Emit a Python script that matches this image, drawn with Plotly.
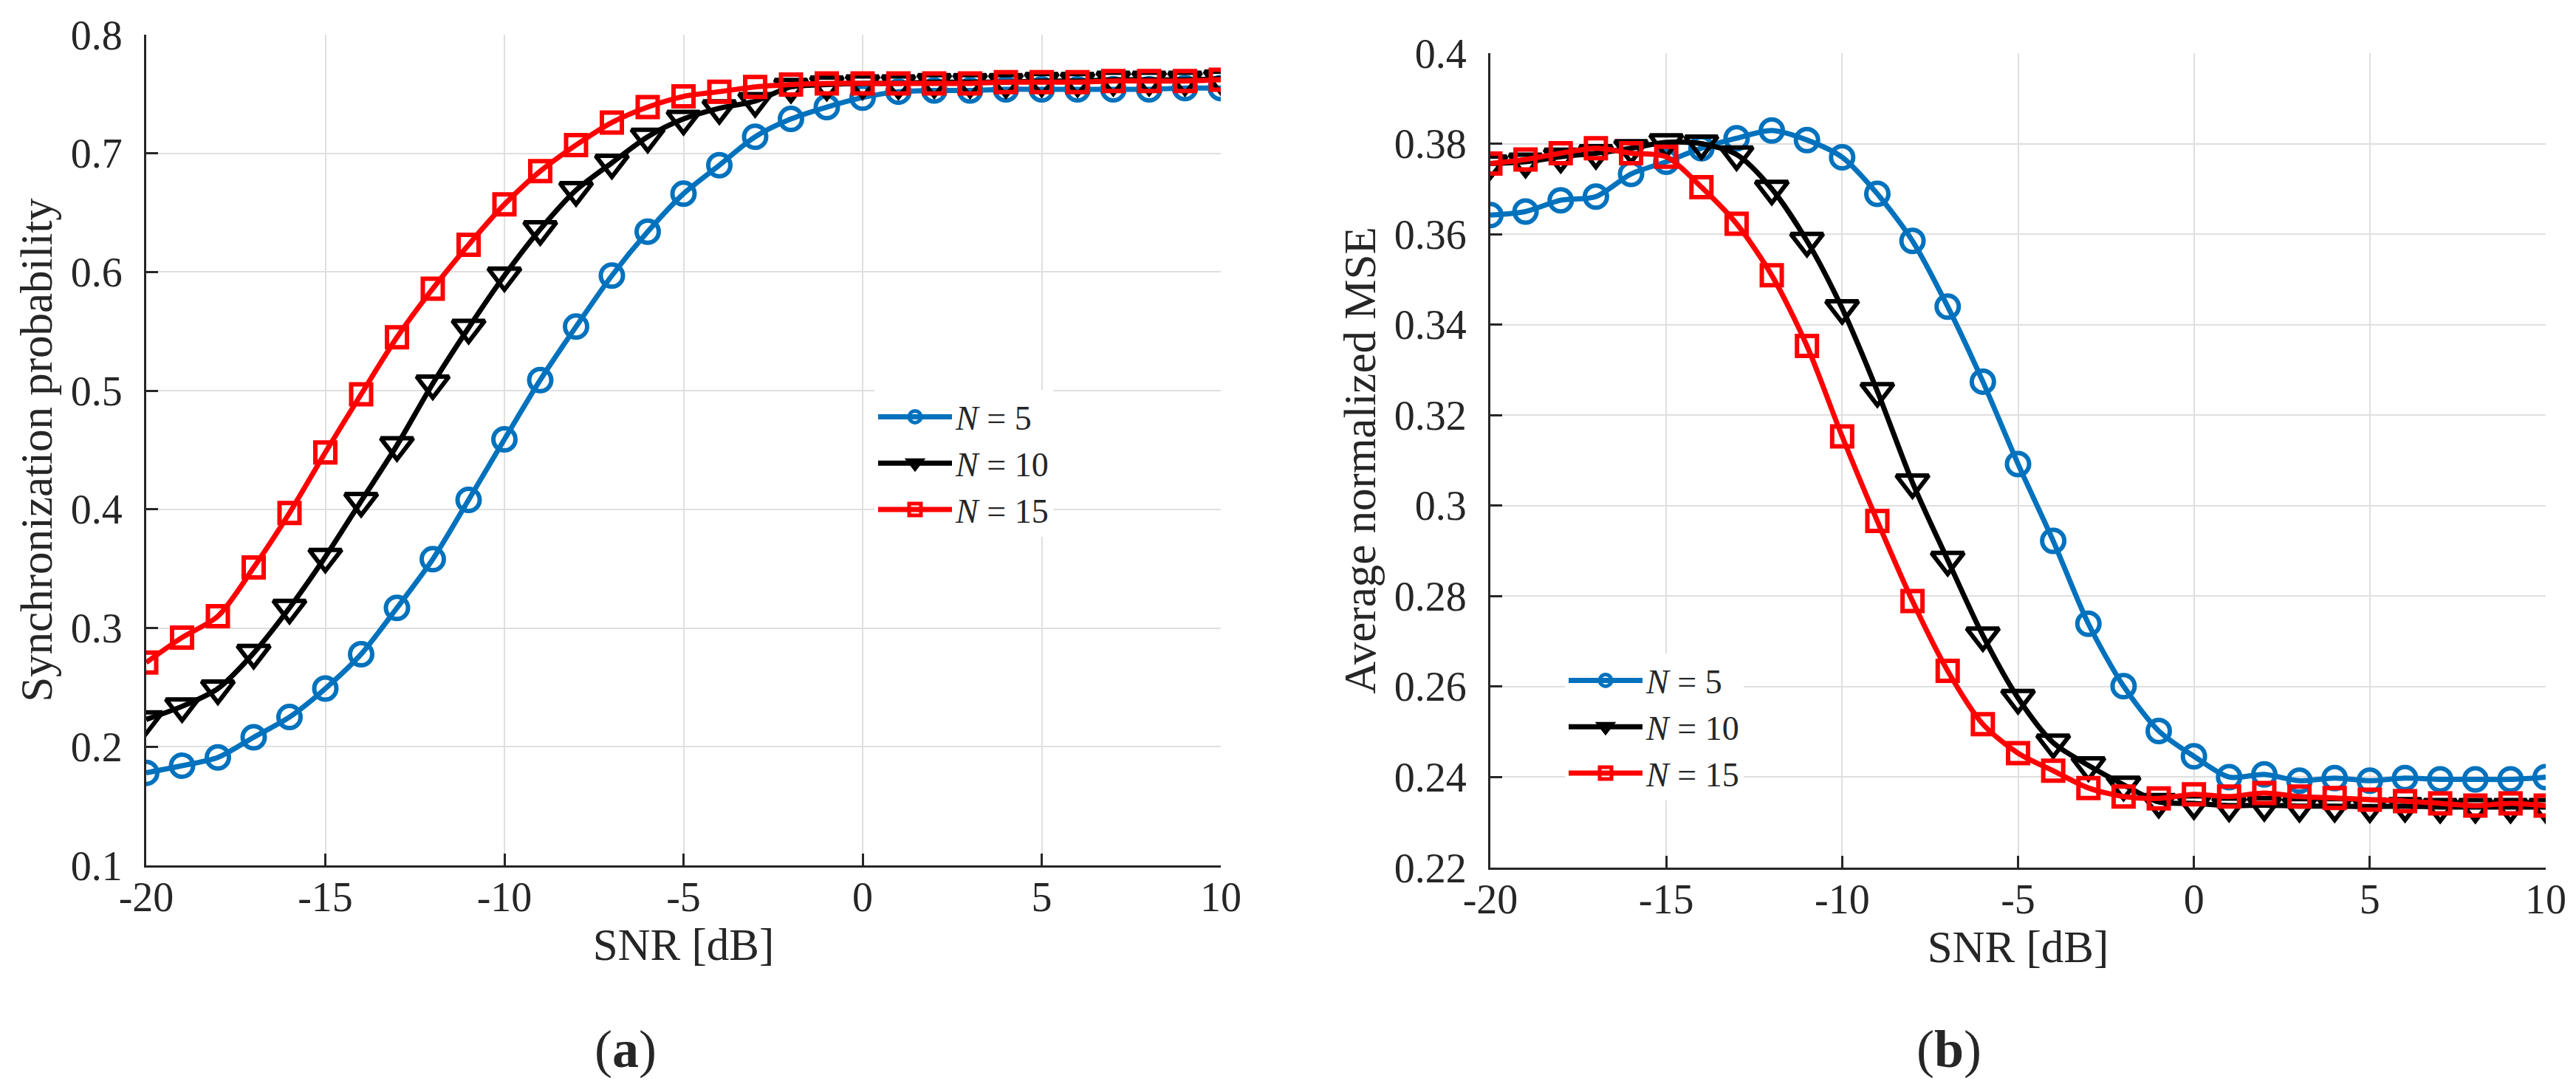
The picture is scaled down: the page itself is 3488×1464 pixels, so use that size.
import plotly.graph_objects as go
from plotly.subplots import make_subplots

# SNR sweep, one point per dB
snr = list(range(-20, 11))

# (a) synchronization probability
sync_n5 = [0.178, 0.184, 0.191, 0.208, 0.225, 0.249, 0.278, 0.317, 0.358, 0.408, 0.459,
           0.509, 0.554, 0.597, 0.634, 0.666, 0.690, 0.714, 0.729, 0.739, 0.747,
           0.752, 0.753, 0.753, 0.754, 0.754, 0.754, 0.754, 0.754, 0.755, 0.755]
sync_n10 = [0.223, 0.234, 0.249, 0.279, 0.317, 0.360, 0.407, 0.454, 0.506, 0.553, 0.597,
            0.636, 0.669, 0.692, 0.714, 0.729, 0.738, 0.744, 0.756, 0.758, 0.759,
            0.759, 0.760, 0.760, 0.760, 0.761, 0.761, 0.762, 0.762, 0.762, 0.763]
sync_n15 = [0.271, 0.292, 0.310, 0.351, 0.397, 0.448, 0.497, 0.545, 0.586, 0.623, 0.657,
            0.685, 0.707, 0.726, 0.739, 0.748, 0.752, 0.756, 0.758, 0.759, 0.759,
            0.759, 0.759, 0.759, 0.760, 0.760, 0.760, 0.761, 0.761, 0.761, 0.762]

# (b) average normalized MSE
mse_n5 = [0.3642, 0.3650, 0.3675, 0.3683, 0.3733, 0.3760, 0.3790, 0.3812, 0.3829, 0.3808, 0.3770,
          0.3689, 0.3585, 0.3440, 0.3274, 0.3092, 0.2922, 0.2739, 0.2601, 0.2502, 0.2446,
          0.2400, 0.2406, 0.2392, 0.2398, 0.2392, 0.2398, 0.2395, 0.2395, 0.2395, 0.2400]
mse_n10 = [0.3756, 0.3760, 0.3771, 0.3779, 0.3790, 0.3803, 0.3800, 0.3776, 0.3700, 0.3585, 0.3436,
           0.3253, 0.3051, 0.2880, 0.2713, 0.2575, 0.2476, 0.2426, 0.2383, 0.2345, 0.2342,
           0.2337, 0.2338, 0.2336, 0.2336, 0.2335, 0.2336, 0.2334, 0.2334, 0.2334, 0.2334]
mse_n15 = [0.3756, 0.3765, 0.3779, 0.3790, 0.3779, 0.3771, 0.3704, 0.3623, 0.3509, 0.3353, 0.3153,
           0.2966, 0.2789, 0.2635, 0.2517, 0.2453, 0.2414, 0.2376, 0.2357, 0.2353, 0.2362,
           0.2357, 0.2365, 0.2357, 0.2354, 0.2350, 0.2347, 0.2342, 0.2337, 0.2342, 0.2337]

x_ticks = [-20, -15, -10, -5, 0, 5, 10]
x_ticktext = ["-20", "-15", "-10", "-5", "0", "5", "10"]
y1_ticks = [0.1, 0.2, 0.3, 0.4, 0.5, 0.6, 0.7, 0.8]
y1_ticktext = ["0.1", "0.2", "0.3", "0.4", "0.5", "0.6", "0.7", "0.8"]
y2_ticks = [0.22, 0.24, 0.26, 0.28, 0.30, 0.32, 0.34, 0.36, 0.38, 0.40]
y2_ticktext = ["0.22", "0.24", "0.26", "0.28", "0.3", "0.32", "0.34", "0.36", "0.38", "0.4"]

labels = ["<i>N</i> = 5", "<i>N</i> = 10", "<i>N</i> = 15"]
colors = ["#0072BD", "#000000", "#FF0000"]
symbols = ["circle-open", "triangle-down-open", "square-open"]
msizes = [30, 38, 27]

FONT = "Liberation Serif, Times New Roman, serif"
TXT = "#262626"

fig = make_subplots(rows=1, cols=2)

# MATLAB-style smooth curves with open markers at each dB step
for i, ys in enumerate([sync_n5, sync_n10, sync_n15]):
    fig.add_trace(go.Scatter(x=snr, y=ys, name=labels[i], mode="lines+markers",
                             line=dict(color=colors[i], width=7, shape="spline", smoothing=0.8),
                             marker=dict(symbol=symbols[i], size=msizes[i], color=colors[i],
                                         line=dict(width=6, color=colors[i])),
                             legend="legend"), 1, 1)

for i, ys in enumerate([mse_n5, mse_n10, mse_n15]):
    fig.add_trace(go.Scatter(x=snr, y=ys, name=labels[i], mode="lines+markers",
                             line=dict(color=colors[i], width=7, shape="spline", smoothing=0.8),
                             marker=dict(symbol=symbols[i], size=msizes[i], color=colors[i],
                                         line=dict(width=6, color=colors[i])),
                             legend="legend2"), 1, 2)

axis_common = dict(showline=True, linecolor=TXT, linewidth=3, mirror=False, automargin=False,
                   ticks="inside", ticklen=16, tickwidth=3, tickcolor=TXT,
                   showgrid=True, gridcolor="#DFDFDF", gridwidth=2, zeroline=False,
                   tickfont=dict(family=FONT, size=56, color=TXT))

fig.update_xaxes(**axis_common, range=[-20, 10], tickvals=x_ticks, ticktext=x_ticktext,
                 ticklabelstandoff=-8,
                 title=dict(text="SNR [dB]", font=dict(family=FONT, size=61, color=TXT), standoff=10))
fig.update_xaxes(domain=[190 / 3488, 1645 / 3488], row=1, col=1)
fig.update_xaxes(domain=[2010 / 3488, 3439 / 3488], row=1, col=2)

fig.update_yaxes(**axis_common, ticklabelstandoff=18)
fig.update_yaxes(range=[0.1, 0.8], tickvals=y1_ticks, ticktext=y1_ticktext,
                 domain=[1 - 1164 / 1464, 1 - 39 / 1464],
                 title=dict(text="Synchronization probability",
                            font=dict(family=FONT, size=61, color=TXT), standoff=6),
                 row=1, col=1)
fig.update_yaxes(range=[0.22, 0.40], tickvals=y2_ticks, ticktext=y2_ticktext,
                 domain=[1 - 1167 / 1464, 1 - 64 / 1464],
                 title=dict(text="Average normalized MSE",
                            font=dict(family=FONT, size=61, color=TXT), standoff=6),
                 row=1, col=2)

legend_style = dict(bgcolor="white", borderwidth=0, xanchor="left", yanchor="top",
                    font=dict(family=FONT, size=46, color=TXT), itemwidth=100,
                    tracegroupgap=0)

fig.update_layout(
    width=3488, height=1464,
    margin=dict(l=0, r=0, t=0, b=0, autoexpand=False),
    plot_bgcolor="white", paper_bgcolor="white",
    legend=dict(**legend_style, x=1176 / 3488, y=1 - 520 / 1464),
    legend2=dict(**legend_style, x=2111 / 3488, y=1 - 877 / 1464),
    annotations=[
        dict(text="(<b>a</b>)", x=839 / 3488, y=1 - 1413 / 1464, xref="paper", yref="paper",
             showarrow=False, xanchor="center", yanchor="middle",
             font=dict(family=FONT, size=72, color=TXT)),
        dict(text="(<b>b</b>)", x=2631 / 3488, y=1 - 1413 / 1464, xref="paper", yref="paper",
             showarrow=False, xanchor="center", yanchor="middle",
             font=dict(family=FONT, size=72, color=TXT)),
    ],
)

fig.write_html("out.html")
